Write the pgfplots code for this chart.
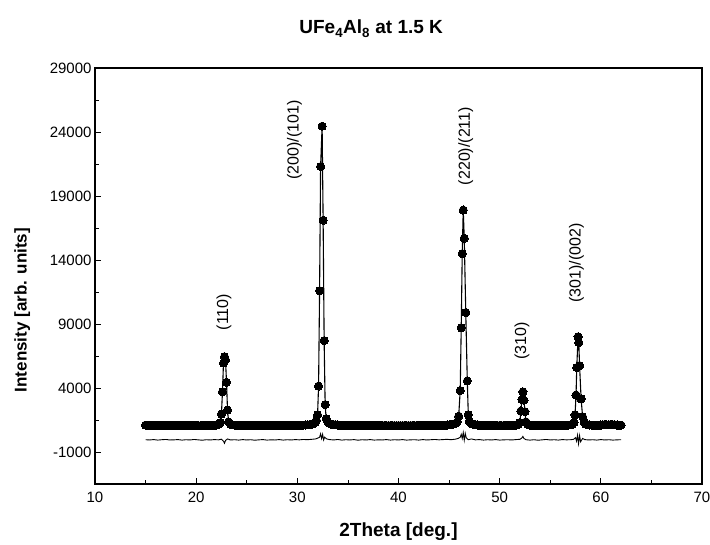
\documentclass[border=0pt]{standalone}
\usepackage{fontspec}
\setmainfont{Liberation Sans}
\usepackage{pgfplots}
\pgfplotsset{compat=1.18}
\begin{document}
\begin{tikzpicture}
\useasboundingbox (-95pt,-60pt) rectangle (615pt,484pt);
\begin{axis}[
  scale only axis, width=607pt, height=416pt,
  at={(0pt,0pt)}, anchor=south west,
  xmin=10, xmax=70, ymin=-3500, ymax=29000,
  xtick={10,20,...,70}, minor xtick={15,25,...,65},
  ytick={-1000,4000,...,29000}, minor ytick={1500,6500,...,26500},
  scaled y ticks=false, scaled x ticks=false,
  tick pos=left, tick align=inside,
  major tick length=6pt, minor tick length=4pt,
  axis line style={line width=1.4pt},
  every tick/.style={black, line width=0.8pt},
  /pgf/number format/assume math mode=true,
  /pgf/number format/1000 sep={},
  tick label style={font=\fontsize{15}{18}\selectfont},
  xticklabel style={yshift=-4pt},
  title={\bfseries UFe\textsubscript{4}Al\textsubscript{8} at 1.5 K},
  title style={at={(axis description cs:0.455,1.08)}, anchor=center, font=\fontsize{19}{22}\selectfont},
  xlabel={\bfseries 2Theta [deg.]},
  xlabel style={at={(axis description cs:0.5,-0.115)}, anchor=center, font=\fontsize{19}{22}\selectfont},
  ylabel={\bfseries Intensity [arb. units]},
  ylabel style={at={(axis description cs:-0.120,0.418)}, anchor=center, font=\fontsize{17}{20}\selectfont},
]
\addplot[black, line width=1.1pt, mark=*, mark size=4.1pt, mark options={fill=black, line width=0pt}] coordinates {
(15.0,1100)(15.2,1090)(15.4,1085)(15.6,1080)(15.8,1085)(16.0,1075)(16.2,1080)(16.4,1070)(16.6,1080)(16.8,1075)
(17.0,1070)(17.2,1080)(17.4,1075)(17.6,1070)(17.8,1065)(18.0,1075)(18.2,1070)(18.4,1065)(18.6,1070)(18.8,1075)
(19.0,1065)(19.2,1070)(19.4,1060)(19.6,1070)(19.8,1065)(20.0,1070)(20.2,1065)(20.4,1060)(20.6,1070)(20.8,1065)
(21.0,1070)(21.2,1075)(21.4,1070)(21.6,1080)(21.8,1090)(22.0,1110)(22.2,1150)(22.4,1300)
(22.5,1970)(22.6,3700)(22.7,5950)(22.8,6450)(22.9,6200)(23.0,4450)(23.1,2280)(23.2,1350)
(23.4,1170)(23.6,1120)(23.8,1100)(24.0,1085)(24.2,1080)(24.4,1075)(24.6,1080)(24.8,1070)
(25.0,1075)(25.2,1070)(25.4,1075)(25.6,1065)(25.8,1070)(26.0,1075)(26.2,1070)(26.4,1065)(26.6,1075)(26.8,1070)
(27.0,1065)(27.2,1070)(27.4,1075)(27.6,1070)(27.8,1065)(28.0,1070)(28.2,1075)(28.4,1070)(28.6,1080)(28.8,1075)
(29.0,1070)(29.2,1080)(29.4,1075)(29.6,1085)(29.8,1080)(30.0,1090)(30.2,1085)(30.4,1095)(30.6,1100)(30.8,1110)
(31.0,1120)(31.2,1140)(31.4,1170)(31.6,1220)(31.75,1300)(31.88,1480)
(32.0,1900)(32.1,4150)(32.2,11600)(32.3,21300)(32.45,24450)(32.55,17100)(32.65,7700)(32.75,2700)(32.85,1600)
(33.0,1350)(33.2,1220)(33.4,1170)(33.6,1140)(33.8,1120)(34.0,1110)(34.2,1100)(34.4,1095)(34.6,1090)(34.8,1085)
(35.0,1090)(35.2,1080)(35.4,1085)(35.6,1080)(35.8,1075)(36.0,1080)(36.2,1085)(36.4,1075)(36.6,1080)(36.8,1070)
(37.0,1075)(37.2,1080)(37.4,1070)(37.6,1075)(37.8,1070)(38.0,1065)(38.2,1070)(38.4,1075)(38.6,1065)(38.8,1070)
(39.0,1060)(39.2,1065)(39.4,1070)(39.6,1060)(39.8,1065)(40.0,1060)(40.2,1065)(40.4,1060)(40.6,1070)(40.8,1065)
(41.0,1060)(41.2,1065)(41.4,1070)(41.6,1065)(41.8,1070)(42.0,1065)(42.2,1070)(42.4,1075)(42.6,1070)(42.8,1075)
(43.0,1080)(43.2,1075)(43.4,1080)(43.6,1085)(43.8,1080)(44.0,1090)(44.2,1085)(44.4,1095)(44.6,1100)(44.8,1110)
(45.0,1120)(45.2,1140)(45.4,1170)(45.6,1220)(45.8,1350)
(45.95,1800)(46.1,3800)(46.2,8700)(46.3,14500)(46.4,17900)(46.5,15700)(46.65,9900)(46.8,4550)(46.9,1900)
(47.0,1400)(47.2,1220)(47.4,1160)(47.6,1130)(47.8,1110)(48.0,1100)(48.2,1090)(48.4,1085)(48.6,1080)(48.8,1075)
(49.0,1080)(49.2,1070)(49.4,1075)(49.6,1070)(49.8,1065)(50.0,1070)(50.2,1065)(50.4,1070)(50.6,1065)(50.8,1070)
(51.0,1075)(51.2,1080)(51.4,1090)(51.6,1100)(51.8,1130)(52.0,1300)
(52.1,2200)(52.2,3100)(52.3,3700)(52.4,3050)(52.5,2150)(52.6,1350)
(52.8,1150)(53.0,1100)(53.2,1090)(53.4,1085)(53.6,1080)(53.8,1075)(54.0,1080)(54.2,1070)(54.4,1075)(54.6,1070)
(54.8,1075)(55.0,1070)(55.2,1075)(55.4,1070)(55.6,1080)(55.8,1075)(56.0,1080)(56.2,1085)(56.4,1080)(56.6,1090)
(56.8,1100)(57.0,1120)(57.2,1160)(57.35,1300)
(57.45,1900)(57.55,3450)(57.62,5600)(57.75,8000)(57.82,7550)(57.9,5750)(58.05,3150)(58.2,1750)
(58.35,1300)(58.5,1180)(58.7,1130)(58.9,1110)(59.1,1100)(59.2,1095)(59.4,1090)(59.6,1095)(59.8,1100)
(60.0,1110)(60.2,1130)(60.4,1140)(60.6,1120)(60.8,1130)(61.0,1145)(61.2,1130)(61.4,1120)(61.6,1110)(61.8,1100)(62.0,1100)
};
\addplot[black, line width=0.9pt, no marks] coordinates {
(15.0,-40)(15.4,-60)(15.8,-30)(16.2,-70)(16.6,-40)(17.0,-20)(17.4,-60)(17.8,-50)(18.2,-30)(18.6,-70)
(19.0,-40)(19.4,-60)(19.8,-20)(20.2,-50)(20.6,-80)(21.0,-40)(21.4,-60)(21.8,-30)(22.2,-50)
(22.5,0)(22.7,-150)(22.8,-320)(22.9,-100)(23.1,20)
(23.4,-60)(23.8,-40)(24.2,-70)(24.6,-30)(25.0,-60)(25.4,-40)(25.8,-80)(26.2,-50)(26.6,-30)(27.0,-70)
(27.4,-50)(27.8,-60)(28.2,-30)(28.6,-70)(29.0,-40)(29.4,-60)(29.8,-30)(30.2,-50)(30.6,-20)(31.0,-40)
(31.4,-10)(31.8,20)(32.0,80)(32.2,150)(32.3,420)(32.4,50)(32.5,380)(32.6,-60)(32.7,160)(32.9,20)
(33.2,-30)(33.6,-60)(34.0,-20)(34.4,-70)(34.8,-40)(35.2,-60)(35.6,-30)(36.0,-80)(36.4,-40)(36.8,-60)
(37.2,-30)(37.6,-70)(38.0,-50)(38.4,-60)(38.8,-30)(39.2,-70)(39.6,-40)(40.0,-60)(40.4,-30)(40.8,-70)
(41.2,-50)(41.6,-40)(42.0,-70)(42.4,-30)(42.8,-60)(43.2,-40)(43.6,-20)(44.0,-50)(44.4,-30)(44.8,-10)
(45.2,-40)(45.6,0)(45.9,60)(46.1,150)(46.2,380)(46.3,60)(46.4,520)(46.5,-80)(46.6,450)(46.7,100)(46.9,-40)
(47.2,20)(47.6,-50)(48.0,-30)(48.4,-70)(48.8,-40)(49.2,-60)(49.6,-30)(50.0,-70)(50.4,-50)(50.8,-40)
(51.2,-60)(51.6,-30)(52.0,-10)(52.2,100)(52.3,220)(52.4,60)(52.6,-40)
(53.0,-70)(53.4,-40)(53.8,-80)(54.2,-50)(54.6,-20)(55.0,-60)(55.4,-40)(55.8,-70)(56.2,-30)(56.6,-50)
(57.0,-40)(57.3,-10)(57.5,120)(57.6,-150)(57.7,320)(57.8,-350)(57.9,280)(58.0,-200)(58.2,60)(58.4,-30)
(58.8,-60)(59.2,-40)(59.6,-70)(60.0,-30)(60.4,-60)(60.8,-40)(61.2,-70)(61.6,-50)(62.0,-40)
};
\node[rotate=90, font=\fontsize{16}{19}\selectfont] at (axis cs:22.75,9940) {(110)};
\node[rotate=90, font=\fontsize{16}{19}\selectfont] at (axis cs:29.73,23375) {(200)/(101)};
\node[rotate=90, font=\fontsize{16}{19}\selectfont] at (axis cs:46.65,22900) {(220)/(211)};
\node[rotate=90, font=\fontsize{16}{19}\selectfont] at (axis cs:52.2,7670) {(310)};
\node[rotate=90, font=\fontsize{16}{19}\selectfont] at (axis cs:57.6,13770) {(301)/(002)};
\end{axis}
\end{tikzpicture}
\end{document}
